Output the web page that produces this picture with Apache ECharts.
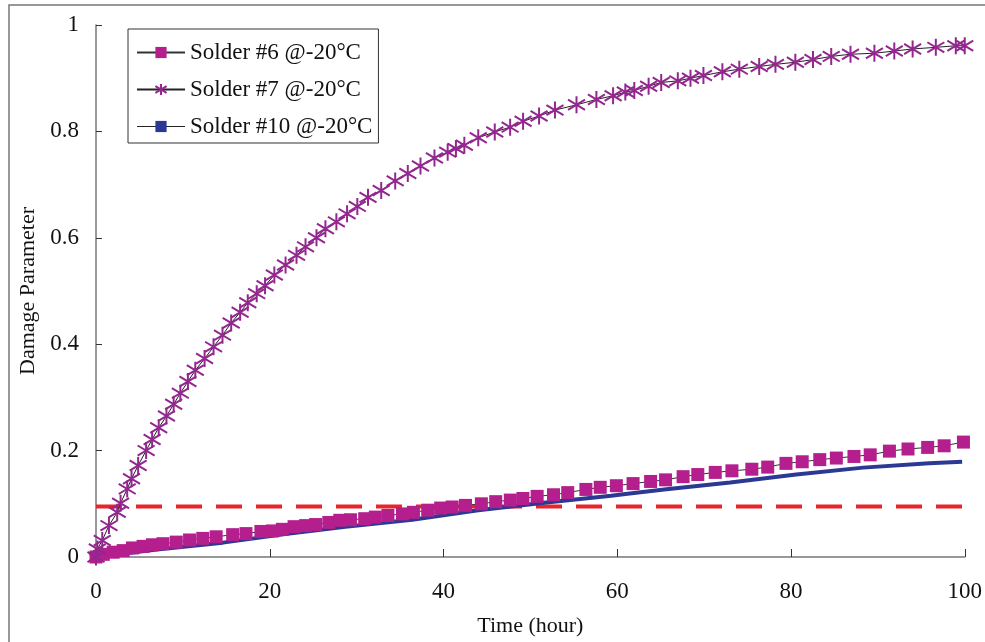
<!DOCTYPE html>
<html>
<head>
<meta charset="utf-8">
<script src="https://cdn.jsdelivr.net/npm/echarts@6/dist/echarts.min.js"></script>
<style>html,body{margin:0;padding:0;background:#fff;}#c{width:985px;height:642px;}</style>
</head>
<body>
<div id="c"></div>
<script>
var xTicks = [0, 20, 40, 60, 80, 100];
var yTicks = [0, 0.2, 0.4, 0.6, 0.8, 1];
var seriesNames = ['Solder #6 @-20°C', 'Solder #7 @-20°C', 'Solder #10 @-20°C'];

var hours6 = [0,0.84,1.98,3.13,4.2,5.42,6.5,7.71,9.24,10.77,12.29,13.83,15.73,17.26,18.98,20.31,21.45,22.8,24.13,25.28,26.8,28.06,29.29,30.93,32.15,33.6,35.28,36.54,38.18,39.67,41.0,42.53,44.36,46.01,47.69,49.14,50.78,52.66,54.3,56.39,58.04,59.9,61.82,63.84,65.56,67.58,69.27,71.28,73.2,75.49,77.32,79.42,81.29,83.31,85.22,87.25,89.12,91.33,93.47,95.73,97.63,99.85];
var damage6 = [0,0.005,0.009,0.012,0.017,0.02,0.023,0.025,0.028,0.032,0.035,0.038,0.042,0.044,0.048,0.049,0.052,0.057,0.059,0.061,0.065,0.069,0.07,0.072,0.075,0.078,0.081,0.084,0.088,0.092,0.094,0.097,0.1,0.104,0.107,0.11,0.114,0.117,0.121,0.127,0.131,0.134,0.138,0.142,0.145,0.151,0.155,0.159,0.162,0.165,0.169,0.176,0.179,0.183,0.186,0.189,0.192,0.199,0.203,0.206,0.209,0.216];

var hours7 = [0,0.15,0.72,1.49,2.44,2.83,3.59,4.09,4.85,5.77,6.46,7.22,8.11,8.94,9.71,10.58,11.43,12.5,13.53,14.56,15.56,16.59,17.47,18.5,19.46,20.53,21.82,23.08,24.12,25.38,26.41,27.67,28.9,30.08,31.31,32.83,34.44,35.89,37.35,38.96,40.48,41.43,42.4,44.0,45.9,47.67,49.16,51.0,52.83,55.31,57.6,59.52,60.93,61.96,63.61,65.06,66.97,68.43,69.92,72.1,74.05,76.34,78.21,80.5,82.53,84.63,86.85,89.6,91.89,94.0,96.67,98.97,100];
var damage7 = [0,0.015,0.031,0.059,0.084,0.101,0.128,0.147,0.172,0.2,0.221,0.243,0.265,0.287,0.308,0.33,0.351,0.373,0.395,0.417,0.44,0.46,0.478,0.495,0.51,0.53,0.549,0.567,0.583,0.6,0.617,0.63,0.645,0.659,0.676,0.689,0.707,0.721,0.735,0.75,0.761,0.768,0.774,0.788,0.799,0.808,0.819,0.829,0.84,0.85,0.86,0.867,0.874,0.877,0.885,0.892,0.895,0.9,0.905,0.912,0.917,0.922,0.926,0.93,0.935,0.941,0.945,0.947,0.951,0.955,0.958,0.961,0.961];

var hours10 = [0,7,14.6,21.8,28.7,36.4,39.4,44,51.6,59.3,61.2,65.4,73,80.6,88.3,95.9,99.7];
var damage10 = [0,0.014,0.027,0.043,0.057,0.07,0.077,0.088,0.102,0.115,0.119,0.127,0.14,0.155,0.168,0.176,0.179];

var thresholdHours = [0, 100];
var thresholdValue = [0.095, 0.095];

function zip(a, b) { return a.map(function (v, i) { return [v, b[i]]; }); }

var FONT = '"Liberation Serif", "Times New Roman", serif';
var asterisk = 'path://M0,-10L0,10M-9,-6L9,6M-9,6L9,-6';
var dash = 'path://M0,0L8,0L8,3L0,3Z';

var chart = echarts.init(document.getElementById('c'));
chart.setOption({
  animation: false,
  backgroundColor: '#fff',
  textStyle: { fontFamily: FONT },
  graphic: [{
    type: 'rect', silent: true, z: -1,
    shape: { x: 9, y: 5, width: 1000, height: 700 },
    style: { fill: 'none', stroke: '#777', lineWidth: 1.5 }
  }],
  grid: { left: 96, right: 16, top: 25, bottom: 84.5, containLabel: false },
  legend: {
    left: 128, top: 29, orient: 'vertical',
    backgroundColor: '#fff',
    borderColor: '#333', borderWidth: 1,
    padding: [12, 6, 5, 8],
    itemWidth: 48, itemHeight: 14, itemGap: 14,
    textStyle: { fontFamily: FONT, fontSize: 23, color: '#111', padding: [0, 0, 0, 0] },
    data: [
      { name: seriesNames[0] },
      { name: seriesNames[1] },
      { name: seriesNames[2], lineStyle: { color: '#222', width: 1 } }
    ]
  },
  xAxis: {
    type: 'value', min: 0, max: 100, interval: 20,
    axisLine: { lineStyle: { color: '#777', width: 1.5 } },
    axisTick: { inside: true, length: 8, lineStyle: { color: '#333' } },
    splitLine: { show: false },
    axisLabel: { fontFamily: FONT, fontSize: 23, color: '#111', margin: 23,
      formatter: function (v) { return xTicks.indexOf(v) >= 0 ? String(v) : ''; } },
    name: 'Time (hour)', nameLocation: 'middle', nameGap: 58,
    nameTextStyle: { fontFamily: FONT, fontSize: 22, color: '#111' }
  },
  yAxis: {
    type: 'value', min: 0, max: 1, interval: 0.2,
    axisLine: { show: true, lineStyle: { color: '#777', width: 1.5 } },
    axisTick: { show: true, inside: true, length: 6, lineStyle: { color: '#333' } },
    splitLine: { show: false },
    axisLabel: { fontFamily: FONT, fontSize: 23, color: '#111', margin: 17,
      formatter: function (v) { return String(Math.round(v * 10) / 10); } },
    name: 'Damage Parameter', nameLocation: 'middle', nameGap: 52, nameRotate: 90,
    nameTextStyle: { fontFamily: FONT, fontSize: 22, color: '#111' }
  },
  series: [
    {
      name: 'threshold', type: 'line', data: zip(thresholdHours, thresholdValue),
      symbol: 'none', lineStyle: { color: '#E8252B', width: 4, type: [26, 14] }, z: 1,
      legendHoverLink: false
    },
    {
      name: seriesNames[2], type: 'line', data: zip(hours10, damage10),
      symbol: dash, symbolSize: [7, 3], showSymbol: false,
      itemStyle: { color: '#2B3994' },
      lineStyle: { color: '#2B3994', width: 4 }, z: 2
    },
    {
      name: seriesNames[0], type: 'line', data: zip(hours6, damage6),
      symbol: 'rect', symbolSize: 13,
      itemStyle: { color: '#B41F8D' },
      lineStyle: { color: '#333', width: 1 }, z: 3
    },
    {
      name: seriesNames[1], type: 'line', data: zip(hours7, damage7),
      symbol: asterisk, symbolSize: 17,
      itemStyle: { color: 'transparent', borderColor: '#93278F', borderWidth: 2 },
      lineStyle: { color: '#222', width: 1 }, z: 4
    }
  ]
});
</script>
</body>
</html>
